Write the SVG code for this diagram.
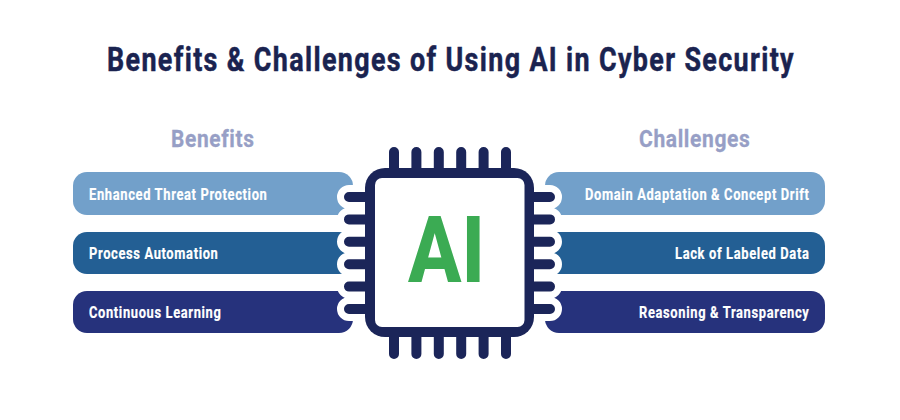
<svg xmlns="http://www.w3.org/2000/svg" width="900" height="420" viewBox="0 0 900 420">
<defs><style>
text{font-family:Roboto,"Liberation Sans",sans-serif;font-weight:700}
.t{font-size:34px;fill:#1a2350;stroke:#1a2350;stroke-width:.5px;letter-spacing:.05em}
.h{font-size:24.500px;fill:#979fc6;stroke:#979fc6;stroke-width:.3px;letter-spacing:.03em}
.l{font-size:16.500px;fill:#fff;stroke:#fff;stroke-width:.2px;letter-spacing:.05em}
.halo{stroke:#fff;stroke-width:24;stroke-linecap:round;fill:none}
.pin{stroke:#1b2559;stroke-width:10;stroke-linecap:round;fill:none}
</style></defs>
<rect width="900" height="420" fill="#fff"/>
<text id="title" class="t" x="107" y="71" textLength="688" lengthAdjust="spacingAndGlyphs">Benefits &amp; Challenges of Using AI in Cyber Security</text>
<text id="benefits" class="h" x="171" y="146.500" textLength="83.500" lengthAdjust="spacingAndGlyphs">Benefits</text>
<text id="challenges" class="h" x="639" y="146.500" textLength="111.500" lengthAdjust="spacingAndGlyphs">Challenges</text>
<g id="b1"><rect x="73" y="172" width="280" height="43" rx="14" fill="#72a0ca"/><text class="l" x="89" y="199.500" textLength="178.500" lengthAdjust="spacingAndGlyphs">Enhanced Threat Protection</text></g>
<g id="b2"><rect x="73" y="232" width="280" height="42" rx="14" fill="#235f94"/><text class="l" x="89" y="258.500" textLength="129.500" lengthAdjust="spacingAndGlyphs">Process Automation</text></g>
<g id="b3"><rect x="73" y="291" width="280" height="42" rx="14" fill="#26327c"/><text class="l" x="89" y="317.500" textLength="132.500" lengthAdjust="spacingAndGlyphs">Continuous Learning</text></g>
<g id="c1"><rect x="545" y="172" width="280" height="43" rx="14" fill="#72a0ca"/><text class="l" x="585" y="199.500" textLength="224.500" lengthAdjust="spacingAndGlyphs">Domain Adaptation &amp; Concept Drift</text></g>
<g id="c2"><rect x="545" y="232" width="280" height="42" rx="14" fill="#235f94"/><text class="l" x="675" y="258.500" textLength="134.500" lengthAdjust="spacingAndGlyphs">Lack of Labeled Data</text></g>
<g id="c3"><rect x="545" y="291" width="280" height="42" rx="14" fill="#26327c"/><text class="l" x="639" y="317.500" textLength="170.500" lengthAdjust="spacingAndGlyphs">Reasoning &amp; Transparency</text></g>
<g id="chip">
<path class="halo" d="M349 197H370M349 219.400H370M349 241.800H370M349 264.200H370M349 286.600H370M349 309H370M550 197H529M550 219.400H529M550 241.800H529M550 264.200H529M550 286.600H529M550 309H529"/>
<path class="pin" d="M349 197H370M349 219.400H370M349 241.800H370M349 264.200H370M349 286.600H370M349 309H370M550 197H529M550 219.400H529M550 241.800H529M550 264.200H529M550 286.600H529M550 309H529M394 152V173M416.400 152V173M438.800 152V173M461.200 152V173M483.600 152V173M506 152V173M394 354V332M416.400 354V332M438.800 354V332M461.200 354V332M483.600 354V332M506 354V332"/>
<rect x="365" y="168" width="169" height="169" rx="20" fill="#1b2559"/>
<rect x="375" y="178" width="149.500" height="149" rx="7" fill="#fff"/>
<text x="408" y="282" font-size="92" style="font-weight:800" fill="#3bab53" textLength="77" lengthAdjust="spacingAndGlyphs">AI</text>
</g>
<g id="connectors"></g>
</svg>
